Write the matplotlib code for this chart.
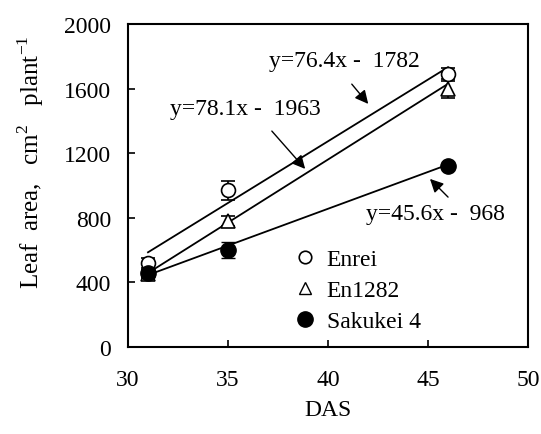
import matplotlib
matplotlib.use('Agg')
import matplotlib.pyplot as plt
from matplotlib.lines import Line2D
import numpy as np

plt.rcParams['font.family'] = ['Liberation Serif', 'DejaVu Serif']
plt.rcParams['mathtext.fontset'] = 'custom'
plt.rcParams['mathtext.rm'] = 'Liberation Serif'

# ================== DATA ==================
das = [31, 35, 46]
enrei = [520, 970, 1690]
enrei_err = [30, 60, 40]
en1282 = [450, 780, 1600]
en1282_err = [25, 30, 60]
sakukei = [460, 600, 1120]
sakukei_err = [25, 50, 20]

fits = {
    'enrei': (76.4, -1782),
    'en1282': (78.1, -1963),
    'sakukei': (45.6, -968),
}
# ==========================================

FS = 17

fig = plt.figure(figsize=(5.41, 4.35), dpi=100)
ax = fig.add_axes([0.2366, 0.2, 0.7394, 0.7425])

xfit = np.array([das[0], das[-1]])
for key in ['enrei', 'en1282', 'sakukei']:
    a, b = fits[key]
    ax.plot(xfit, a * xfit + b, color='black', lw=1.3, zorder=2)

ax.errorbar(das, enrei, yerr=enrei_err, fmt='o', mfc='white', mec='black',
            ms=10, mew=1.2, ecolor='black', elinewidth=1.2, capsize=5, zorder=4)
ax.errorbar(das, en1282, yerr=en1282_err, fmt='^', mfc='white', mec='black',
            ms=10, mew=1.2, ecolor='black', elinewidth=1.2, capsize=5, zorder=3)
ax.errorbar(das, sakukei, yerr=sakukei_err, fmt='o', mfc='black', mec='black',
            ms=11, ecolor='black', elinewidth=1.2, capsize=5, zorder=5)

arrowprops = dict(arrowstyle='-|>', color='black', lw=1, mutation_scale=20)
ax.annotate('', xy=(42.1, 1492), xytext=(41.1, 1641), arrowprops=arrowprops)
ax.annotate('', xy=(38.95, 1090), xytext=(37.1, 1350), arrowprops=arrowprops)
ax.annotate('', xy=(45.0, 1053), xytext=(46.1, 916), arrowprops=arrowprops)
ax.text(40.8, 1771, 'y=76.4x -  1782', ha='center', va='center', fontsize=FS)
ax.text(35.85, 1474, 'y=78.1x -  1963', ha='center', va='center', fontsize=FS)
ax.text(45.35, 824, 'y=45.6x -  968', ha='center', va='center', fontsize=FS)

ax.set_xlim(30, 50)
ax.set_ylim(0, 2000)
ax.set_xticks([30, 35, 40, 45, 50])
ax.set_yticks([0, 400, 800, 1200, 1600, 2000])
ax.tick_params(axis='y', direction='in', length=5, width=1.2, labelsize=FS, pad=12)
ax.tick_params(axis='x', direction='in', length=5, width=1.2, labelsize=FS, pad=16)
for s in ax.spines.values():
    s.set_linewidth(1.5)

ax.set_xlabel('DAS', fontsize=FS, labelpad=6)
ax.set_ylabel(r'Leaf  area,   cm$^{2}$   plant$^{-1}$', fontsize=18)
ax.yaxis.set_label_coords(-0.205, 0.575)

handles = [
    Line2D([], [], ls='none', marker='o', mfc='white', mec='black', ms=9, mew=1.2),
    Line2D([], [], ls='none', marker='^', mfc='white', mec='black', ms=8, mew=1.0),
    Line2D([], [], ls='none', marker='o', mfc='black', mec='black', ms=11),
]
ax.legend(handles, ['Enrei', 'En1282', 'Sakukei 4'], loc='lower left',
          bbox_to_anchor=(0.355, -0.019), frameon=False, fontsize=FS,
          handletextpad=0.3, labelspacing=0.4, handlelength=1.2)

fig.savefig('out.png', dpi=100)
